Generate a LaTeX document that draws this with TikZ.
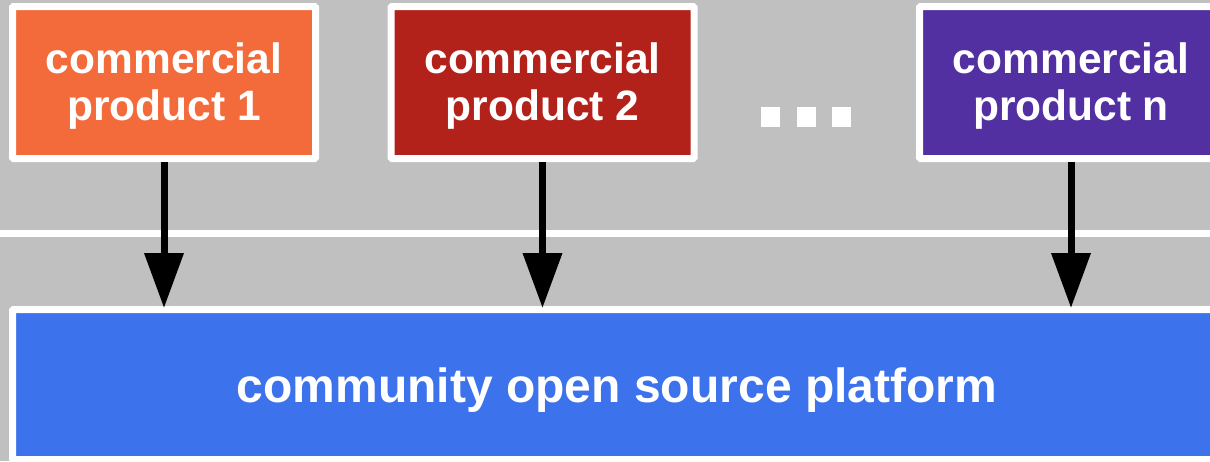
\documentclass[tikz,border=0pt]{standalone}
\usepackage{fontspec}
\setmainfont{Liberation Sans}
\usetikzlibrary{arrows.meta}
\definecolor{bggray}{HTML}{C0C0C0}
\definecolor{prodorange}{HTML}{F36B3B}
\definecolor{prodred}{HTML}{B3221A}
\definecolor{prodpurple}{HTML}{5230A1}
\definecolor{platblue}{HTML}{3C72EC}
\tikzset{
  panel/.style={draw=white, line width=7pt, rounded corners=1pt, inner sep=0pt},
  prodbox/.style={panel, minimum width=303pt, minimum height=152pt},
  prodtext/.style={text=white, align=center, inner sep=0pt, anchor=north,
    font=\fontsize{42.5}{46.5}\selectfont\bfseries},
  plattext/.style={text=white, inner sep=0pt, anchor=base,
    font=\fontsize{48}{56}\selectfont\bfseries},
  feed/.style={line width=7pt, -{Triangle[length=55pt, width=38pt]}, shorten >=-2pt},
  dot/.style={fill=white, minimum size=19.5pt, inner sep=0pt},
}
\begin{document}
\begin{tikzpicture}[x=1pt, y=-1pt]
  \useasboundingbox (0,0) rectangle (1210,461);
  \clip (0,0) rectangle (1210,461);
  \fill[bggray] (0,0) rectangle (1210,461);

  % separator between the product layer and the platform layer
  \coordinate (sepL) at (0,233.5);
  \coordinate (sepR) at (1210,233.5);
  \draw[white, line width=7pt] (sepL) -- (sepR);

  % commercial products
  \node[prodbox, fill=prodorange] (p1) at (164,82.5) {};
  \node[prodbox, fill=prodred]    (p2) at (542.5,82.5) {};
  \node[prodbox, fill=prodpurple] (pn) at (1071,82.5) {};
  \node[prodtext] (p1t) at (164,43)   {commercial\\product 1};
  \node[prodtext] (p2t) at (542.5,43) {commercial\\product 2};
  \node[prodtext] (pnt) at (1071,43)  {commercial\\product n};

  % ellipsis
  \node[dot] (d1) at (770.5,117) {};
  \node[dot] (d2) at (806.5,117) {};
  \node[dot] (d3) at (841.5,117) {};

  % platform
  \node[panel, fill=platblue, minimum width=1209pt, minimum height=150pt] (plat) at (617,384.5) {};
  \node[plattext] (platt) at (617,402) {community open source platform};

  % products build on the platform
  \draw[feed] (p1.south) -- (p1.south |- plat.north);
  \draw[feed] (p2.south) -- (p2.south |- plat.north);
  \draw[feed] (pn.south) -- (pn.south |- plat.north);
\end{tikzpicture}
\end{document}
